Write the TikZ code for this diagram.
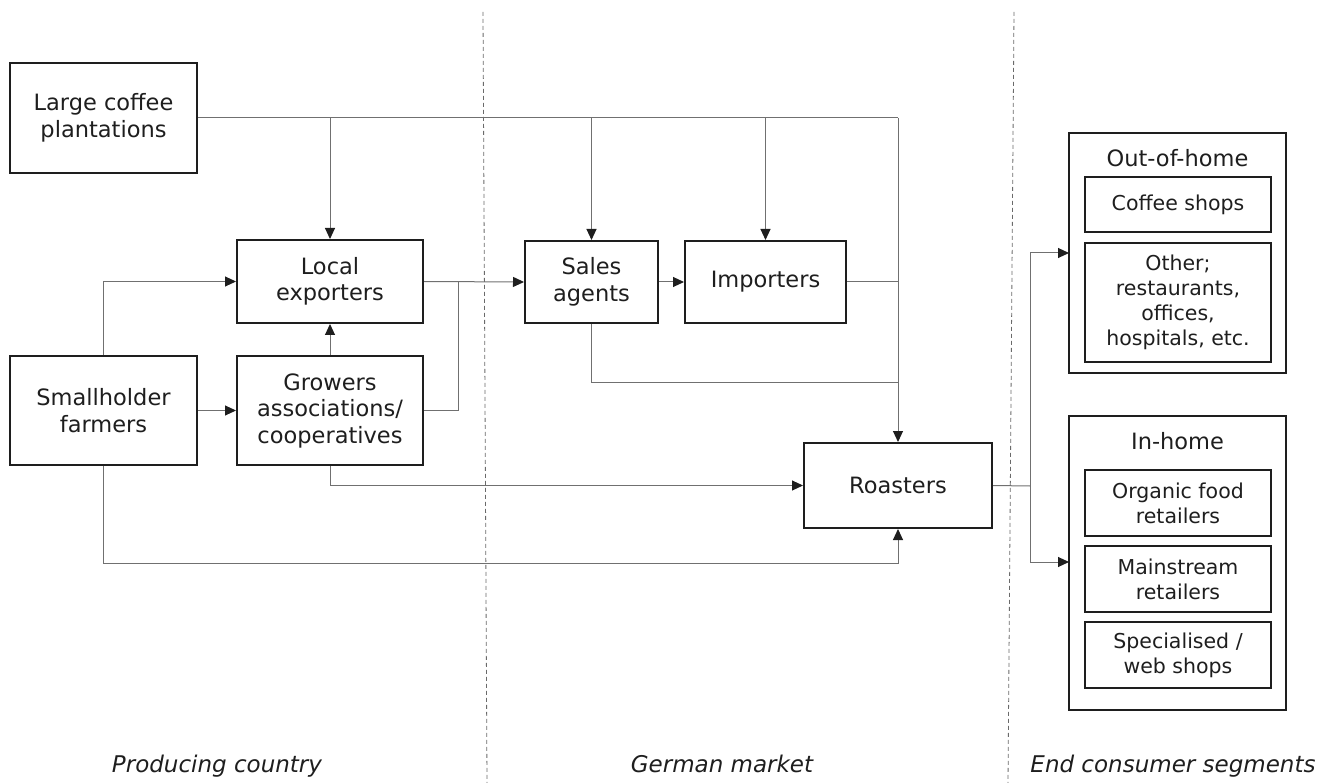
\documentclass[tikz,border=0pt]{standalone}
\usepackage{fontspec}
\setmainfont{DejaVu Sans}
\usetikzlibrary{arrows.meta}
\definecolor{ink}{HTML}{1E1E1E}
\definecolor{wire}{HTML}{707070}
\definecolor{sep}{HTML}{6A6A6A}
\begin{document}
\begin{tikzpicture}[x=1pt,y=-1pt,
  box/.style={draw=ink, line width=2pt, align=center, inner sep=0pt, text=ink,
    font=\fontsize{22.5}{26.5}\selectfont},
  sbox/.style={draw=ink, line width=2pt, align=center, inner sep=0pt, text=ink,
    font=\fontsize{20.5}{25}\selectfont},
  ttl/.style={text=ink, inner sep=0pt, font=\fontsize{22.5}{26.5}\selectfont},
  lbl/.style={text=ink, inner sep=0pt, anchor=base, font=\fontsize{23}{27}\selectfont\itshape},
  conn/.style={draw=wire, line width=1pt},
  arr/.style={conn, -{Triangle[length=11pt,width=10pt,color=ink]}},
  sepline/.style={draw=sep, line width=0.8pt, dash pattern=on 4pt off 3pt}
]
\useasboundingbox (0,0) rectangle (1344,783);

% separators
\draw[sepline] (483,12) -- (487,783);
\draw[sepline] (1014,12) -- (1008,783);

% main nodes
\node[box, minimum width=187pt, minimum height=110pt] (LCP) at (103.5,118) {Large coffee\\plantations};
\node[box, minimum width=186pt, minimum height=83pt] (LE) at (330,281.5) {Local\\exporters};
\node[box, minimum width=187pt, minimum height=109pt] (SF) at (103.5,410.5) {Smallholder\\farmers};
\node[box, minimum width=186pt, minimum height=109pt] (GA) at (330,410.5) {Growers\\associations/\\cooperatives};
\node[box, minimum width=133pt, minimum height=82pt] (SA) at (591.5,282) {Sales\\agents};
\node[box, minimum width=161pt, minimum height=82pt] (IM) at (765.5,282) {Importers};
\node[box, minimum width=188pt, minimum height=85pt] (RO) at (898,485.5) {Roasters};

% end consumer segments
\node[draw=ink, line width=2pt, minimum width=217pt, minimum height=240pt, inner sep=0pt] (OUT) at (1177.5,253) {};
\node[ttl] (OUTT) at (1177.5,158) {Out-of-home};
\node[sbox, minimum width=186pt, minimum height=55pt] (CS) at (1178,204.5) {Coffee shops};
\node[sbox, minimum width=186pt, minimum height=119pt] (OT) at (1178,302.5) {Other;\\restaurants,\\offices,\\hospitals, etc.};

\node[draw=ink, line width=2pt, minimum width=217pt, minimum height=294pt, inner sep=0pt] (IN) at (1177.5,563) {};
\node[ttl] (INT) at (1177.5,441) {In-home};
\node[sbox, minimum width=186pt, minimum height=66pt] (OR) at (1178,503) {Organic food\\retailers};
\node[sbox, minimum width=186pt, minimum height=66pt] (MA) at (1178,579) {Mainstream\\retailers};
\node[sbox, minimum width=186pt, minimum height=66pt] (SP) at (1178,655) {Specialised /\\web shops};

% bottom labels
\node[lbl] (L1) at (217,772) {Producing country};
\node[lbl] (L2) at (722,772) {German market};
\node[lbl] (L3) at (1173,772) {End consumer segments};

% junction coordinates
\coordinate (J1) at (898,118);
\coordinate (J2) at (458,282);
\coordinate (J4) at (898,383);
\coordinate (J5) at (898,563);
\coordinate (J3) at (1030,486);
\coordinate (K1) at (1069,253);
\coordinate (K2) at (1069,562);

% connectors
\draw[conn] (LCP.east) -- (J1);
\draw[arr] (J1) -- (RO.north);
\draw[arr] (LE.north |- J1) -- (LE.north);
\draw[arr] (SA.north |- J1) -- (SA.north);
\draw[arr] (IM.north |- J1) -- (IM.north);
\draw[arr] (SF.north) |- (LE.west);
\draw[arr] (SF.east) -- (GA.west);
\draw[arr] (GA.north) -- (LE.south);
\draw[arr] (LE.east) -- (SA.west);
\draw[conn] (GA.east) -| (J2);
\draw[arr] (SA.east) -- (IM.west);
\draw[conn] (IM.east) -- (IM.east -| J1);
\draw[conn] (SA.south) |- (J4);
\draw[arr] (GA.south) |- (RO.west);
\draw[arr] (SF.south) |- (J5) -- (RO.south);
\draw[conn] (RO.east) -- (J3);
\draw[arr] (J3) |- (K1);
\draw[arr] (J3) |- (K2);
\end{tikzpicture}
\end{document}
